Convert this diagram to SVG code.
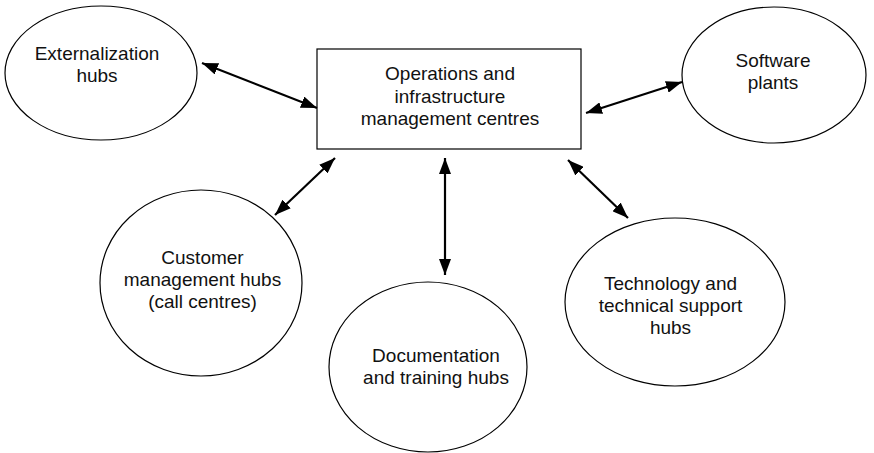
<svg xmlns="http://www.w3.org/2000/svg" width="874" height="453" viewBox="0 0 874 453">
<defs>
<style>
.n{fill:#fff;stroke:#000;stroke-width:1.2}
.t{font-family:"Liberation Sans",Arial,sans-serif;font-size:19px;fill:#111;text-anchor:middle}
.c{stroke:#000;stroke-width:2.2;fill:none;marker-start:url(#ah);marker-end:url(#ah)}
</style>
<marker id="ah" markerUnits="userSpaceOnUse" markerWidth="16" markerHeight="12" viewBox="0 0 16 12" refX="16" refY="6" orient="auto-start-reverse">
<path d="M0,0 L16,6 L0,12 Z" fill="#000"/>
</marker>
</defs>
<rect width="874" height="453" fill="#fff"/>
<g id="ops">
<rect class="n" x="317" y="49" width="264" height="100"/>
<text class="t" x="450" y="80">Operations and</text>
<text class="t" x="450" y="102.5">infrastructure</text>
<text class="t" x="450" y="125">management centres</text>
</g>
<g id="externalization">
<ellipse class="n" cx="101" cy="73" rx="96" ry="67"/>
<text class="t" x="97" y="60">Externalization</text>
<text class="t" x="97" y="82">hubs</text>
</g>
<g id="software">
<ellipse class="n" cx="774" cy="75" rx="92" ry="68"/>
<text class="t" x="773" y="67">Software</text>
<text class="t" x="773" y="89">plants</text>
</g>
<g id="customer">
<ellipse class="n" cx="201" cy="283" rx="101" ry="93"/>
<text class="t" x="202.5" y="264">Customer</text>
<text class="t" x="202.5" y="286">management hubs</text>
<text class="t" x="202.5" y="308">(call centres)</text>
</g>
<g id="documentation">
<ellipse class="n" cx="428" cy="367" rx="99" ry="85"/>
<text class="t" x="436" y="362">Documentation</text>
<text class="t" x="436" y="384">and training hubs</text>
</g>
<g id="technology">
<ellipse class="n" cx="675" cy="302" rx="110" ry="84"/>
<text class="t" x="670.5" y="290">Technology and</text>
<text class="t" x="670.5" y="312">technical support</text>
<text class="t" x="670.5" y="334">hubs</text>
</g>
<g id="connectors">
<line class="c" x1="202" y1="63" x2="317" y2="108"/>
<line class="c" x1="586" y1="113" x2="682" y2="82"/>
<line class="c" x1="335" y1="158" x2="275" y2="215"/>
<line class="c" x1="445" y1="158" x2="445" y2="275"/>
<line class="c" x1="568" y1="160" x2="628" y2="218"/>
</g>
</svg>
